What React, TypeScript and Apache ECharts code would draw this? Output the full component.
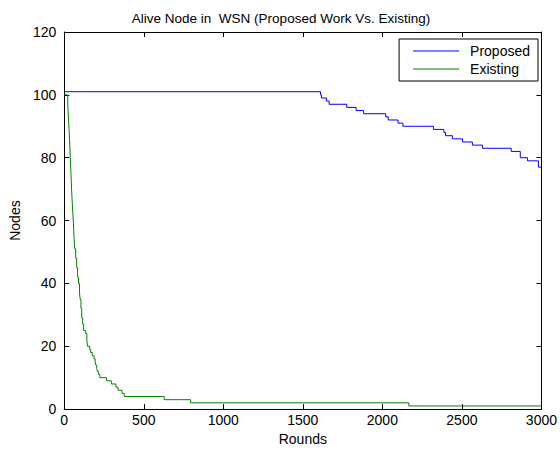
import React, { useEffect, useRef } from "react";
import * as echarts from "echarts";

const titleText = "Alive Node in  WSN (Proposed Work Vs. Existing)";
const xTicks = [0, 500, 1000, 1500, 2000, 2500, 3000];
const yTicks = [0, 20, 40, 60, 80, 100, 120];

const proposedRounds = [0, 1611, 1617, 1648, 1665, 1776, 1835, 1882, 2021, 2037, 2098, 2129, 2321, 2387, 2397, 2440, 2504, 2566, 2630, 2810, 2867, 2912, 2981, 3000];
const proposedNodes = [101, 100, 99, 98, 97, 96, 95, 94, 93, 92, 91, 90, 89, 88, 87, 86, 85, 84, 83, 82, 80, 79, 77, 77];

const existingRounds = [0, 22, 26, 30, 34, 38, 42, 46, 50, 54, 58, 62, 66, 72, 78, 84, 90, 96, 100, 105, 110, 116, 122, 135, 142, 146, 160, 166, 176, 187, 194, 198, 204, 208, 216, 224, 266, 296, 325, 338, 363, 377, 628, 794, 2166, 3000];
const existingNodes = [100, 97, 93, 89, 85, 80, 75, 70, 66, 62, 59, 54, 51, 48, 45, 42, 40, 37, 35, 32, 29, 27, 25, 24, 22, 20, 19, 18, 17, 16, 15, 14, 13, 12, 11, 10, 9, 8, 7, 6, 5, 4, 3, 2, 1, 1];

const FONT = "Liberation Sans, Arial, Helvetica, sans-serif";

export default function App() {
  const ref = useRef<HTMLDivElement>(null);
  useEffect(() => {
    if (!ref.current) return;
    const chart = echarts.init(ref.current, null, { renderer: "svg" });
    const xMin = xTicks[0];
    const xMax = xTicks[xTicks.length - 1];
    const yMin = yTicks[0];
    const yMax = yTicks[yTicks.length - 1];
    const xInt = xTicks[1] - xTicks[0];
    const yInt = yTicks[1] - yTicks[0];
    const axisLine = { show: true, onZero: false, lineStyle: { color: "#000", width: 1 } };
    const tick = { show: true, inside: true, length: 5, lineStyle: { color: "#000" } };
    chart.setOption({
      animation: false,
      backgroundColor: "#fff",
      textStyle: { fontFamily: FONT },
      title: {
        text: titleText,
        left: 276,
        textAlign: "center",
        top: 6,
        textStyle: { fontFamily: FONT, fontSize: 13.5, fontWeight: "normal", color: "#000" },
      },
      grid: { left: 62, right: 15, top: 32, bottom: 40, containLabel: false },
      legend: {
        right: 22,
        top: 39,
        orient: "vertical",
        align: "left",
        borderColor: "#000",
        borderWidth: 1,
        padding: [5, 8, 5, 14],
        itemGap: 4,
        itemWidth: 46,
        itemHeight: 1,
        icon: "rect",
        backgroundColor: "#fff",
        textStyle: { fontFamily: FONT, fontSize: 14, color: "#000", padding: [0, 0, 0, 6] },
        data: ["Proposed", "Existing"],
      },
      xAxis: [
        {
          type: "value",
          min: xMin,
          max: xMax,
          interval: xInt,
          name: "Rounds",
          nameLocation: "middle",
          nameGap: 22,
          nameTextStyle: { fontFamily: FONT, fontSize: 14, color: "#000" },
          axisLine,
          axisTick: tick,
          splitLine: { show: false },
          axisLabel: { color: "#000", fontSize: 14, fontFamily: FONT, margin: 4, formatter: (v: number) => String(v) },
        },
        {
          type: "value",
          position: "top",
          min: xMin,
          max: xMax,
          interval: xInt,
          axisLine,
          axisTick: tick,
          splitLine: { show: false },
          axisLabel: { show: false },
        },
      ],
      yAxis: [
        {
          type: "value",
          min: yMin,
          max: yMax,
          interval: yInt,
          name: "Nodes",
          nameLocation: "middle",
          nameGap: 38,
          nameRotate: 90,
          nameTextStyle: { fontFamily: FONT, fontSize: 14, color: "#000" },
          axisLine,
          axisTick: tick,
          splitLine: { show: false },
          axisLabel: { color: "#000", fontSize: 14, fontFamily: FONT, margin: 8, formatter: (v: number) => String(v) },
        },
        {
          type: "value",
          position: "right",
          min: yMin,
          max: yMax,
          interval: yInt,
          axisLine,
          axisTick: tick,
          splitLine: { show: false },
          axisLabel: { show: false },
        },
      ],
      series: [
        {
          name: "Proposed",
          type: "line",
          step: "end",
          symbol: "none",
          showSymbol: false,
          lineStyle: { color: "#0000ff", width: 1 },
          itemStyle: { color: "#0000ff" },
          data: proposedRounds.map((r, i) => [r, proposedNodes[i]]),
        },
        {
          name: "Existing",
          type: "line",
          step: "end",
          symbol: "none",
          showSymbol: false,
          lineStyle: { color: "#008000", width: 1 },
          itemStyle: { color: "#008000" },
          data: existingRounds.map((r, i) => [r, existingNodes[i]]),
        },
      ],
    });
    return () => chart.dispose();
  }, []);
  return (
    <div
      ref={ref}
      style={{ position: "fixed", left: 0, top: 0, width: 560, height: 451, background: "#fff" }}
    />
  );
}
